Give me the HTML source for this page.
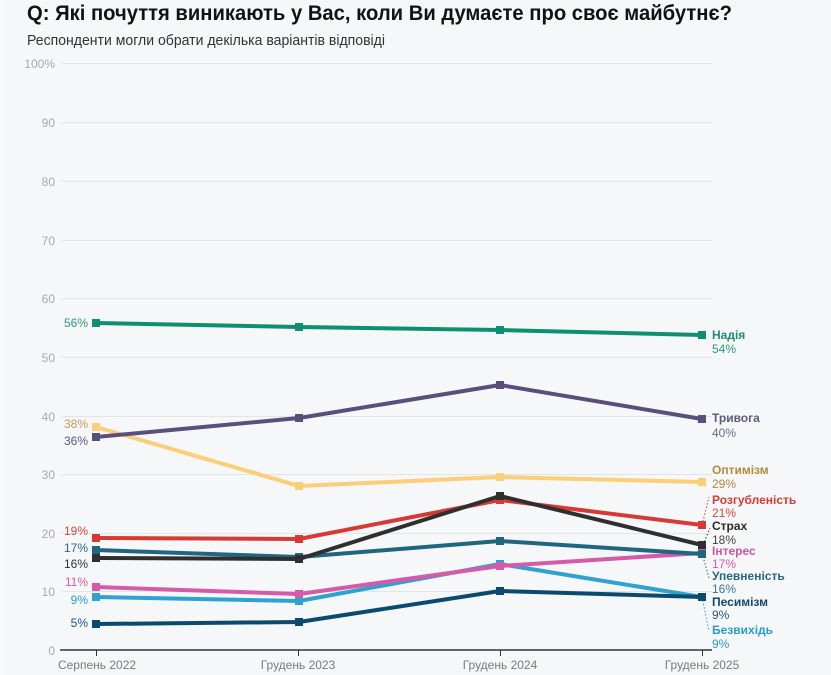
<!DOCTYPE html>
<html><head><meta charset="utf-8"><style>
html,body{margin:0;padding:0;background:#f6f7f9;}
svg{display:block;font-family:"Liberation Sans","DejaVu Sans",sans-serif;}
</style></head><body>
<svg width="831" height="675" viewBox="0 0 831 675" xmlns="http://www.w3.org/2000/svg">
<rect x="0" y="0" width="831" height="675" fill="#f6f7f9"/>
<rect x="0" y="0" width="3" height="675" fill="#fbfbfc"/>
<text x="27" y="20" font-size="21" font-weight="bold" fill="#121212" textLength="705" lengthAdjust="spacingAndGlyphs">Q: Які почуття виникають у Вас, коли Ви думаєте про своє майбутнє?</text>
<text x="27" y="45" font-size="14.5" fill="#333" textLength="358" lengthAdjust="spacingAndGlyphs">Респонденти могли обрати декілька варіантів відповіді</text>
<g stroke="#e3e4e7" stroke-width="1">
<line x1="62" y1="63.5" x2="712" y2="63.5"/>
<line x1="62" y1="122.5" x2="712" y2="122.5"/>
<line x1="62" y1="181.5" x2="712" y2="181.5"/>
<line x1="62" y1="240.5" x2="712" y2="240.5"/>
<line x1="62" y1="298.5" x2="712" y2="298.5"/>
<line x1="62" y1="357.5" x2="712" y2="357.5"/>
<line x1="62" y1="416.5" x2="712" y2="416.5"/>
<line x1="62" y1="474.5" x2="712" y2="474.5"/>
<line x1="62" y1="533.5" x2="712" y2="533.5"/>
<line x1="62" y1="591.5" x2="712" y2="591.5"/>
</g>
<g font-size="12" fill="#a9a9ad" text-anchor="end">
<text x="55" y="68">100%</text>
<text x="55" y="127">90</text>
<text x="55" y="186">80</text>
<text x="55" y="245">70</text>
<text x="55" y="303">60</text>
<text x="55" y="362">50</text>
<text x="55" y="421">40</text>
<text x="55" y="479">30</text>
<text x="55" y="538">20</text>
<text x="55" y="596">10</text>
<text x="55" y="655">0</text>
</g>
<line x1="60" y1="650" x2="712" y2="650" stroke="#333" stroke-width="1.5"/>
<g stroke="#333" stroke-width="1">
<line x1="96.5" y1="650" x2="96.5" y2="656"/>
<line x1="298.5" y1="650" x2="298.5" y2="656"/>
<line x1="500.5" y1="650" x2="500.5" y2="656"/>
<line x1="702.5" y1="650" x2="702.5" y2="656"/>
</g>
<g font-size="12" fill="#7a7a7e" text-anchor="middle">
<text x="97" y="669">Серпень 2022</text>
<text x="298" y="669">Грудень 2023</text>
<text x="500" y="669">Грудень 2024</text>
<text x="702" y="669">Грудень 2025</text>
</g>
<g stroke-width="1" stroke-dasharray="1.5,2" fill="none">
<line x1="702" y1="525" x2="709" y2="497" stroke="#d63a34"/>
<line x1="703" y1="545" x2="710" y2="528" stroke="#333"/>
<line x1="702" y1="553" x2="709" y2="578" stroke="#1f6680"/>
<line x1="702" y1="597" x2="709" y2="631" stroke="#2ea3d0"/>
</g>
<g fill="none" stroke-width="4" stroke-linejoin="round">
<polyline stroke="#2ea3d0" points="96,597 299,601 500,564 702,597"/>
<polyline stroke="#0b4a6f" points="96,624 299,622 500,591 702,597"/>
<polyline stroke="#d55aa8" points="96,587 299,594 500,566 702,553"/>
<polyline stroke="#1f6680" points="96,550 299,557 500,541 702,554"/>
<polyline stroke="#d63a34" points="96,538 299,539 500,500 702,525"/>
<polyline stroke="#2f2f2f" points="96,558 299,559 500,496 702,545"/>
<polyline stroke="#fbcf77" points="96,427 299,486 500,477 702,482"/>
<polyline stroke="#5a4f7c" points="96,437 299,418 500,385 702,419"/>
<polyline stroke="#0f8f72" points="96,323 299,327 500,330 702,335"/>
</g>
<g>
<g fill="#2ea3d0"><rect x="92" y="593" width="8" height="8"/><rect x="295" y="597" width="8" height="8"/><rect x="496" y="560" width="8" height="8"/><rect x="698" y="593" width="8" height="8"/></g>
<g fill="#0b4a6f"><rect x="92" y="620" width="8" height="8"/><rect x="295" y="618" width="8" height="8"/><rect x="496" y="587" width="8" height="8"/><rect x="698" y="593" width="8" height="8"/></g>
<g fill="#d55aa8"><rect x="92" y="583" width="8" height="8"/><rect x="295" y="590" width="8" height="8"/><rect x="496" y="562" width="8" height="8"/><rect x="698" y="549" width="8" height="8"/></g>
<g fill="#1f6680"><rect x="92" y="546" width="8" height="8"/><rect x="295" y="553" width="8" height="8"/><rect x="496" y="537" width="8" height="8"/><rect x="698" y="550" width="8" height="8"/></g>
<g fill="#d63a34"><rect x="92" y="534" width="8" height="8"/><rect x="295" y="535" width="8" height="8"/><rect x="496" y="496" width="8" height="8"/><rect x="698" y="521" width="8" height="8"/></g>
<g fill="#2f2f2f"><rect x="92" y="554" width="8" height="8"/><rect x="295" y="555" width="8" height="8"/><rect x="496" y="492" width="8" height="8"/><rect x="698" y="541" width="8" height="8"/></g>
<g fill="#fbcf77"><rect x="92" y="423" width="8" height="8"/><rect x="295" y="482" width="8" height="8"/><rect x="496" y="473" width="8" height="8"/><rect x="698" y="478" width="8" height="8"/></g>
<g fill="#5a4f7c"><rect x="92" y="433" width="8" height="8"/><rect x="295" y="414" width="8" height="8"/><rect x="496" y="381" width="8" height="8"/><rect x="698" y="415" width="8" height="8"/></g>
<g fill="#0f8f72"><rect x="92" y="319" width="8" height="8"/><rect x="295" y="323" width="8" height="8"/><rect x="496" y="326" width="8" height="8"/><rect x="698" y="331" width="8" height="8"/></g>
</g>
<g font-size="12" text-anchor="end">
<text x="88" y="327" fill="#2a9a7c">56%</text>
<text x="88" y="428" fill="#c4a055">38%</text>
<text x="88" y="445" fill="#5f5878">36%</text>
<text x="88" y="535" fill="#d9483f">19%</text>
<text x="88" y="552" fill="#2d6a84">17%</text>
<text x="88" y="568" fill="#333">16%</text>
<text x="88" y="586" fill="#d55aa8">11%</text>
<text x="88" y="604" fill="#2a9dc8">9%</text>
<text x="88" y="627" fill="#1c5478">5%</text>
</g>
<g font-size="12">
<text x="712" y="339" font-weight="bold" fill="#1a8f72">Надія</text>
<text x="712" y="353" fill="#2a9a7c">54%</text>
<text x="712" y="422" font-weight="bold" fill="#5f5878">Тривога</text>
<text x="712" y="437" fill="#6f6888">40%</text>
<text x="712" y="474" font-weight="bold" fill="#b08b3c">Оптимізм</text>
<text x="712" y="488" fill="#b08b3c">29%</text>
<text x="712" y="504" font-weight="bold" fill="#d63a34">Розгубленість</text>
<text x="712" y="517" fill="#d9483f">21%</text>
<text x="712" y="530" font-weight="bold" fill="#2a2a2a">Страх</text>
<text x="712" y="544" fill="#444">18%</text>
<text x="712" y="555" font-weight="bold" fill="#cf55a2">Інтерес</text>
<text x="712" y="568" fill="#d55aa8">17%</text>
<text x="712" y="580" font-weight="bold" fill="#2a6682">Упевненість</text>
<text x="712" y="593" fill="#3d7690">16%</text>
<text x="712" y="606" font-weight="bold" fill="#16466a">Песимізм</text>
<text x="712" y="619" fill="#2a5878">9%</text>
<text x="712" y="634" font-weight="bold" fill="#2a9dc8">Безвихідь</text>
<text x="712" y="648" fill="#2a9dc8">9%</text>
</g>
</svg>
</body></html>
